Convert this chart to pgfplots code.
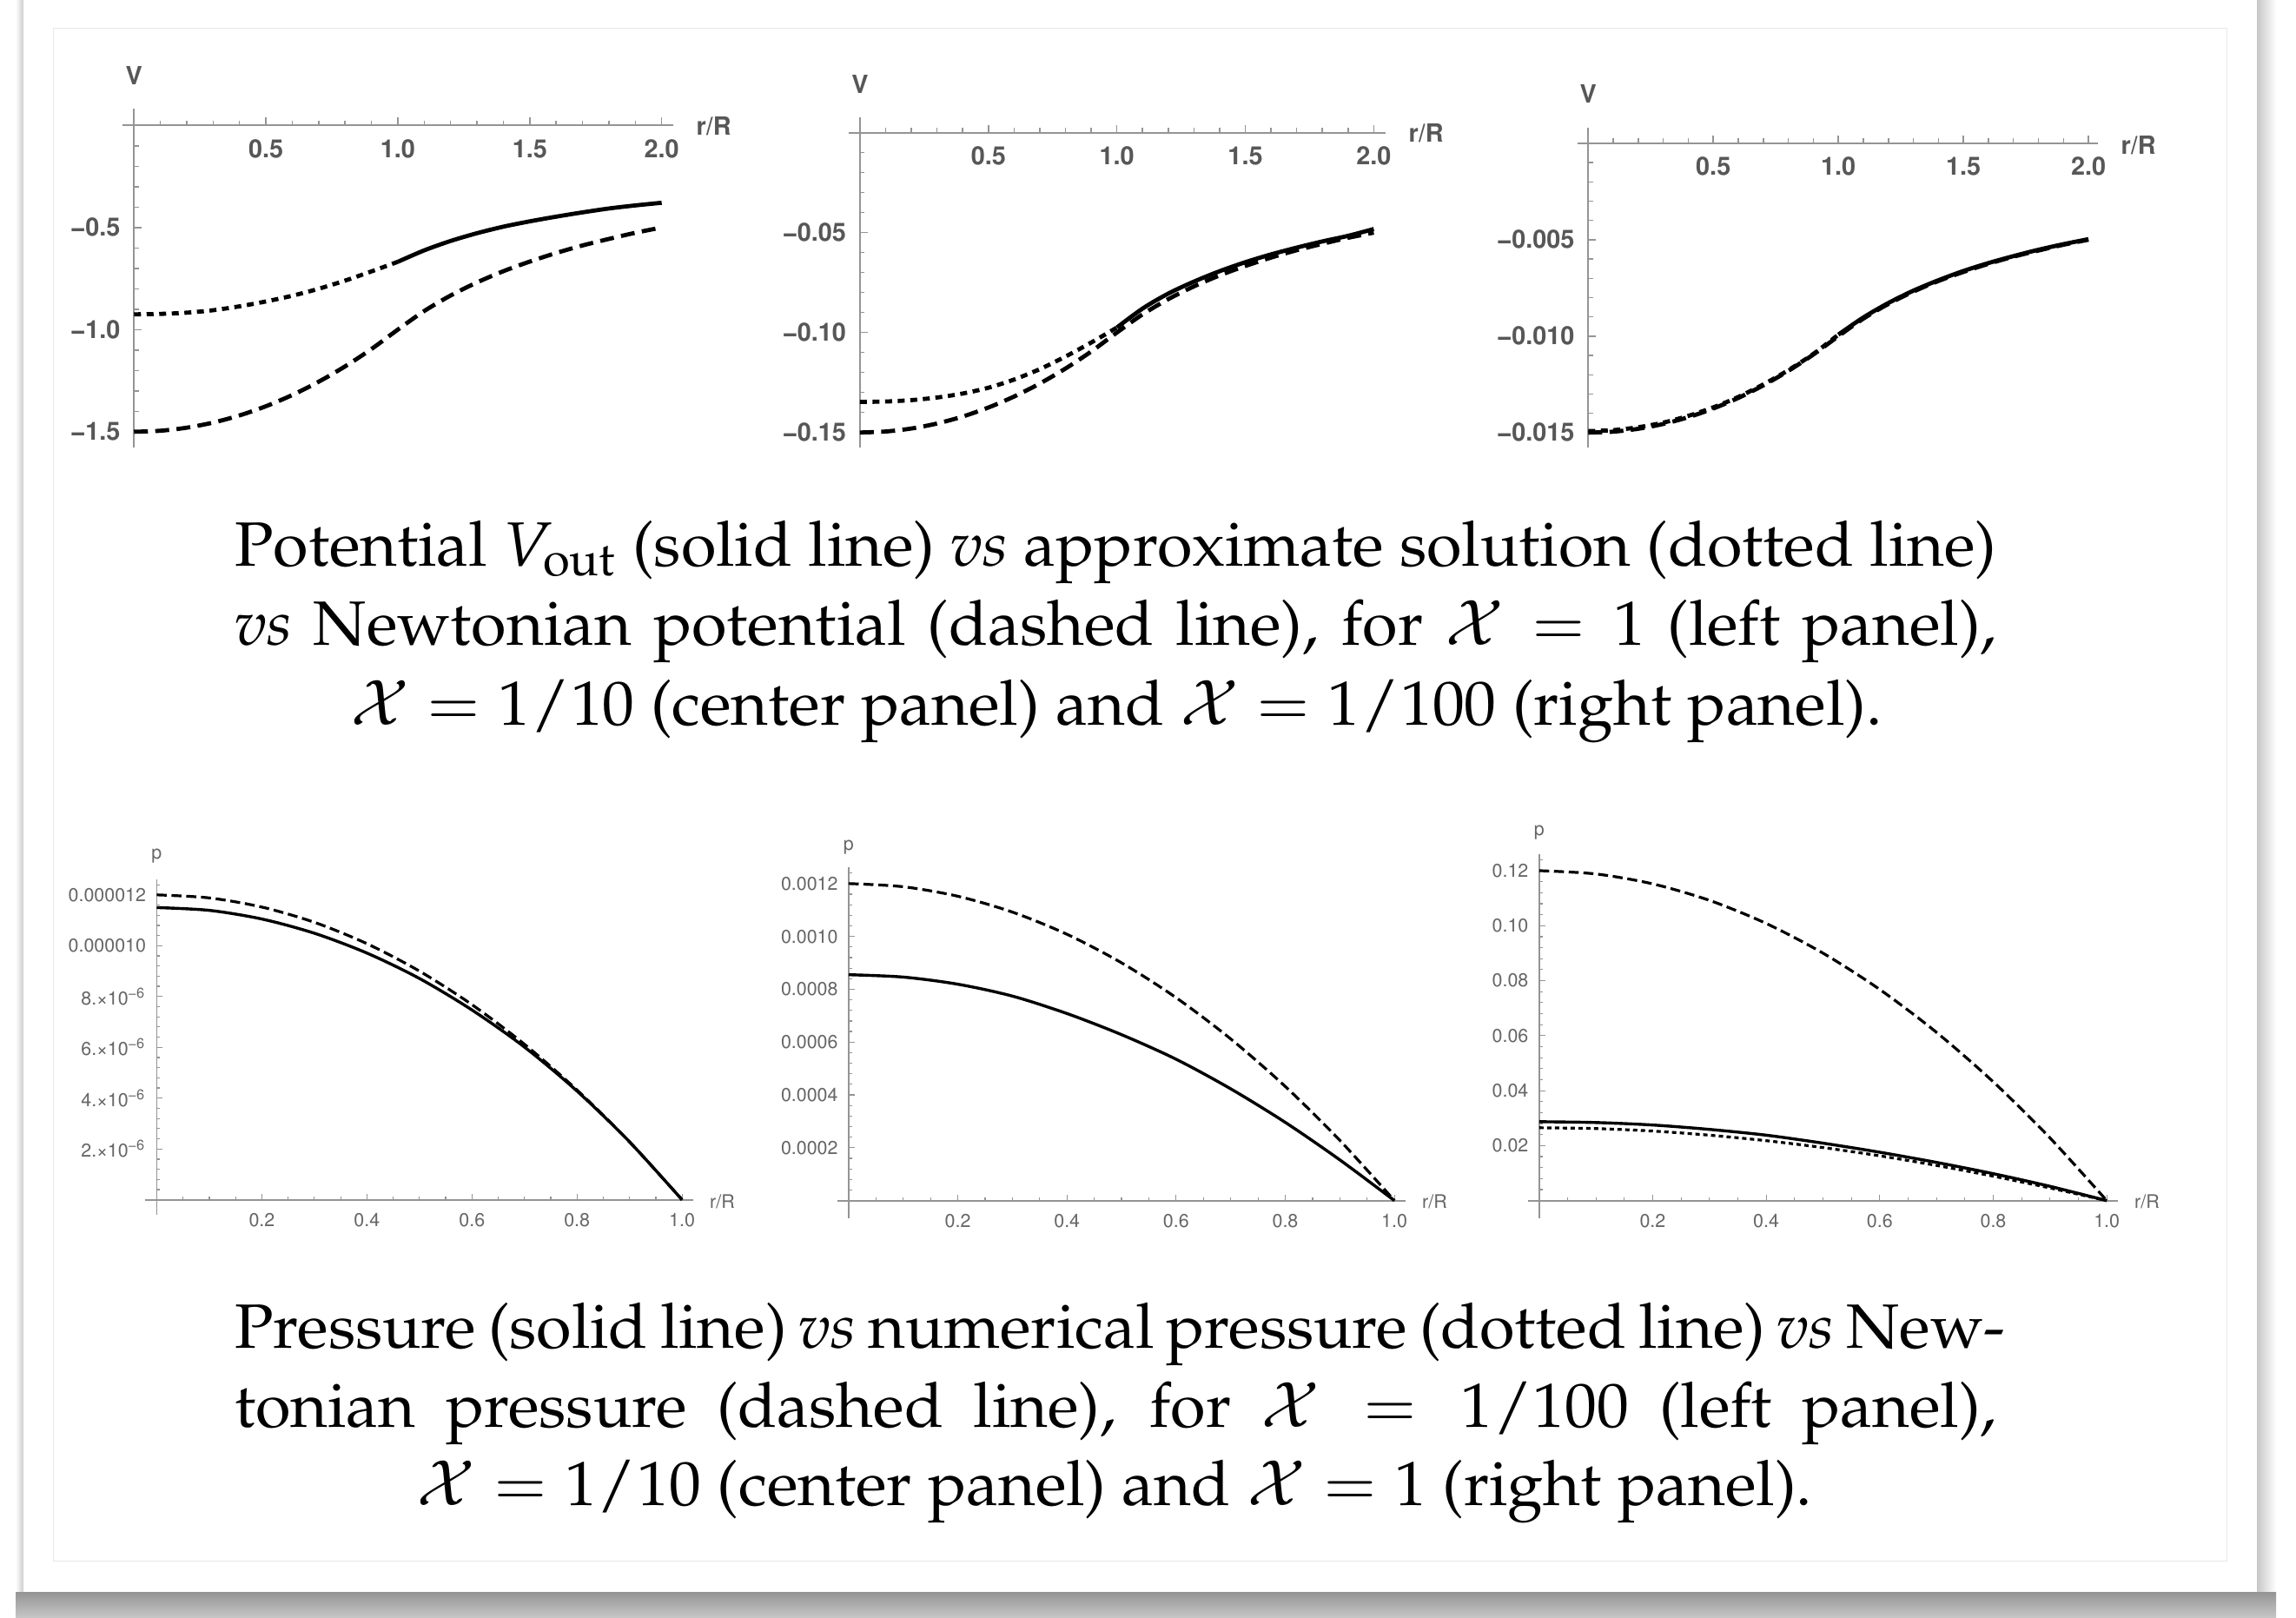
\documentclass[border=0pt]{standalone}
\usepackage[T1]{fontenc}
\usepackage{mathpazo}
\usepackage{helvet}
\usepackage{graphicx}
\usepackage{pgfplots}
\pgfplotsset{compat=1.18}

\newcommand\capfont{\fontsize{20.5}{26}\selectfont}
\newcommand\topfont{\fontfamily{phv}\bfseries\fontsize{8.2}{9}\selectfont}
\newcommand\botfont{\fontfamily{phv}\mdseries\fontsize{6.1}{7}\selectfont}
\newcommand\mm{\textminus}
\newcommand\sci[1]{#1.\texttimes10\textsuperscript{\textminus6}}

\pgfplotsset{
  mmatop/.style={
    scale only axis, anchor=south west, axis lines=middle,
    scaled ticks=false,
    axis line style={-, black!42, line width=0.2mm},
    tick style={black!42, line width=0.15mm},
    tick align=inside,
    major tick length=0.9mm, minor tick length=0.55mm,
    tick label style={font=\topfont, text=black!66},
    xticklabel style={yshift=-0.4mm},
    yticklabel style={xshift=-0.35mm},
  },
  mmabot/.style={
    scale only axis, anchor=south west, axis lines=middle,
    scaled ticks=false,
    axis line style={-, black!42, line width=0.18mm},
    tick style={black!42, line width=0.12mm},
    tick align=inside,
    major tick length=0.7mm, minor tick length=0.4mm,
    tick label style={font=\botfont, text=black!60},
    xticklabel style={yshift=-0.35mm},
    xtick={0.2,0.4,0.6,0.8,1.0},
    xticklabels={0.2,0.4,0.6,0.8,1.0},
    minor xtick={0.05,0.1,...,1.0},
  },
  tsol/.style={black, line width=0.48mm, smooth},
  tdas/.style={black, line width=0.48mm, smooth, dash pattern=on 1.6mm off 0.85mm},
  tdot/.style={black, line width=0.48mm, smooth, dash pattern=on 0.8mm off 0.65mm},
  bsol/.style={black, line width=0.34mm, smooth},
  bdas/.style={black, line width=0.32mm, smooth, dash pattern=on 1.15mm off 0.55mm},
  bdot/.style={black, line width=0.32mm, smooth, dash pattern=on 0.5mm off 0.4mm},
}

\newlength\Lone
\begin{document}%
\settowidth{\Lone}{\capfont Potential $V_{\mathrm{out}}$ (solid line) \textit{vs} approximate solution (dotted line)}%
\pgfmathsetmacro\sx{202.8mm/\Lone}%
\begin{tikzpicture}
% ---------- page, card and shadows ----------
\path (0,0) rectangle (264.3mm,186.2mm);
\shade[top color=black!42, bottom color=black!22] (1.8mm,0) rectangle (262mm,3.0mm);
\shade[left color=white, right color=black!20] (1.8mm,3.0mm) rectangle (2.68mm,186.2mm);
\shade[left color=black!22, right color=white] (259.8mm,3.0mm) rectangle (262mm,186.2mm);
\fill[white] (2.68mm,3.0mm) rectangle (259.8mm,186.2mm);
\draw[black!9, line width=0.1mm] (6.1mm,6.5mm) rectangle (256.3mm,182.9mm);

% ---------- top left: X = 1 ----------
\begin{axis}[mmatop, at={(14.12mm,134.7mm)}, width=63.35mm, height=39.0mm,
  xmin=-0.043, xmax=2.043, ymin=-1.577, ymax=0.082,
  xtick={0.5,1,1.5,2}, xticklabels={0.5,1.0,1.5,2.0},
  minor xtick={0.1,0.2,...,2.0},
  ytick={-1.5,-1,-0.5}, yticklabels={\mm1.5,\mm1.0,\mm0.5},
  minor ytick={-1.5,-1.4,...,-0.1}]
\addplot[tdas] coordinates {(0,-1.5) (0.1,-1.495) (0.2,-1.48) (0.3,-1.455) (0.4,-1.42) (0.5,-1.375) (0.6,-1.32) (0.7,-1.255) (0.8,-1.18) (0.9,-1.095) (1.0,-1.0) (1.1,-0.909) (1.2,-0.833) (1.3,-0.769) (1.4,-0.714) (1.5,-0.667) (1.6,-0.625) (1.7,-0.588) (1.8,-0.556) (1.9,-0.526) (2.0,-0.5)};
\addplot[tdot] coordinates {(0,-0.925) (0.1,-0.923) (0.2,-0.917) (0.3,-0.905) (0.4,-0.886) (0.5,-0.862) (0.6,-0.834) (0.7,-0.800) (0.8,-0.760) (0.9,-0.715) (1.0,-0.668)};
\addplot[tsol] coordinates {(1.0,-0.668) (1.1,-0.612) (1.2,-0.566) (1.3,-0.528) (1.4,-0.496) (1.5,-0.470) (1.6,-0.447) (1.7,-0.426) (1.8,-0.407) (1.9,-0.392) (2.0,-0.379)};
\end{axis}
\node[font=\topfont, text=black!66] at (15.42mm,177.5mm) {V};
\node[font=\topfont, text=black!66, anchor=west, inner sep=0] at (80.1mm,171.7mm) {r/R};

% ---------- top center: X = 1/10 ----------
\begin{axis}[mmatop, at={(97.69mm,134.7mm)}, width=61.78mm, height=38.0mm,
  xmin=-0.044, xmax=2.045, ymin=-0.1575, ymax=0.0077,
  xtick={0.5,1,1.5,2}, xticklabels={0.5,1.0,1.5,2.0},
  minor xtick={0.1,0.2,...,2.0},
  ytick={-0.15,-0.1,-0.05}, yticklabels={\mm0.15,\mm0.10,\mm0.05},
  minor ytick={-0.15,-0.14,...,-0.01}]
\addplot[tdas] coordinates {(0,-0.15) (0.1,-0.1495) (0.2,-0.148) (0.3,-0.1455) (0.4,-0.142) (0.5,-0.1375) (0.6,-0.132) (0.7,-0.1255) (0.8,-0.118) (0.9,-0.1095) (1.0,-0.1) (1.1,-0.0909) (1.2,-0.0833) (1.3,-0.0769) (1.4,-0.0714) (1.5,-0.0667) (1.6,-0.0625) (1.7,-0.0588) (1.8,-0.0556) (1.9,-0.0526) (2.0,-0.05)};
\addplot[tdot] coordinates {(0,-0.1347) (0.1,-0.1345) (0.2,-0.1338) (0.3,-0.1325) (0.4,-0.1305) (0.5,-0.1276) (0.6,-0.1235) (0.7,-0.1183) (0.8,-0.1120) (0.9,-0.1050) (1.0,-0.0975)};
\addplot[tsol] coordinates {(1.0,-0.0975) (1.1,-0.0880) (1.2,-0.0805) (1.3,-0.0745) (1.4,-0.0693) (1.5,-0.0648) (1.6,-0.0609) (1.7,-0.0575) (1.8,-0.0544) (1.9,-0.0516) (2.0,-0.0482)};
\end{axis}
\node[font=\topfont, text=black!66] at (98.99mm,176.5mm) {V};
\node[font=\topfont, text=black!66, anchor=west, inner sep=0] at (162.1mm,170.9mm) {r/R};

% ---------- top right: X = 1/100 ----------
\begin{axis}[mmatop, at={(181.62mm,134.7mm)}, width=59.85mm, height=36.83mm,
  xmin=-0.042, xmax=2.037, ymin=-0.01577, ymax=0.00082,
  xtick={0.5,1,1.5,2}, xticklabels={0.5,1.0,1.5,2.0},
  minor xtick={0.1,0.2,...,2.0},
  ytick={-0.015,-0.01,-0.005}, yticklabels={\mm0.015,\mm0.010,\mm0.005},
  minor ytick={-0.015,-0.014,-0.013,-0.012,-0.011,-0.010,-0.009,-0.008,-0.007,-0.006,-0.005,-0.004,-0.003,-0.002,-0.001}]
\addplot[tdas] coordinates {(0,-0.015) (0.1,-0.01495) (0.2,-0.0148) (0.3,-0.01455) (0.4,-0.0142) (0.5,-0.01375) (0.6,-0.0132) (0.7,-0.01255) (0.8,-0.0118) (0.9,-0.01095) (1.0,-0.0100) (1.1,-0.00909) (1.2,-0.00833) (1.3,-0.00769) (1.4,-0.00714) (1.5,-0.00667) (1.6,-0.00625) (1.7,-0.00588) (1.8,-0.00556) (1.9,-0.00526) (2.0,-0.0050)};
\addplot[tdot] coordinates {(0,-0.01492) (0.1,-0.01487) (0.2,-0.01472) (0.3,-0.01448) (0.4,-0.01413) (0.5,-0.01369) (0.6,-0.01315) (0.7,-0.01250) (0.8,-0.01176) (0.9,-0.01092) (1.0,-0.00992)};
\addplot[tsol] coordinates {(1.0,-0.00992) (1.1,-0.00903) (1.2,-0.00828) (1.3,-0.00764) (1.4,-0.00710) (1.5,-0.00662) (1.6,-0.00621) (1.7,-0.00585) (1.8,-0.00552) (1.9,-0.00523) (2.0,-0.00497)};
\end{axis}
\node[font=\topfont, text=black!66] at (182.83mm,175.4mm) {V};
\node[font=\topfont, text=black!66, anchor=west, inner sep=0] at (244.1mm,169.5mm) {r/R};

% ---------- caption 1 ----------
\node[anchor=base west, inner sep=0] at (26.96mm,121.0mm) {\capfont\scalebox{\sx}[1]{\makebox[\Lone][s]{Potential $V_{\mathrm{out}}$ (solid line) \textit{vs} approximate solution (dotted line)}}};
\node[anchor=base west, inner sep=0] at (26.96mm,111.9mm) {\capfont\scalebox{\sx}[1]{\makebox[\Lone][s]{\textit{vs} Newtonian potential (dashed line), for $\mathcal{X} = 1$ (left panel),}}};
\node[anchor=base, inner sep=0] at (128.5mm,102.7mm) {\capfont\scalebox{\sx}[1]{$\mathcal{X} = 1/10$ (center panel) and $\mathcal{X} = 1/100$ (right panel).}};

% ---------- bottom left: X = 1/100 ----------
\begin{axis}[mmabot, at={(16.73mm,46.4mm)}, width=63.09mm, height=38.63mm,
  xmin=-0.0218, xmax=1.0216, ymin=-0.59e-6, ymax=12.62e-6,
  ytick={2e-6,4e-6,6e-6,8e-6,10e-6,12e-6},
  yticklabels={\sci{2},\sci{4},\sci{6},\sci{8},0.000010,0.000012},
  minor ytick={0.4e-6,0.8e-6,1.2e-6,1.6e-6,2.0e-6,2.4e-6,2.8e-6,3.2e-6,3.6e-6,4.0e-6,4.4e-6,4.8e-6,5.2e-6,5.6e-6,6.0e-6,6.4e-6,6.8e-6,7.2e-6,7.6e-6,8.0e-6,8.4e-6,8.8e-6,9.2e-6,9.6e-6,10.0e-6,10.4e-6,10.8e-6,11.2e-6,11.6e-6,12.0e-6,12.4e-6}]
\addplot[bdas] coordinates {(0,12.0e-6) (0.1,11.88e-6) (0.2,11.52e-6) (0.3,10.92e-6) (0.4,10.08e-6) (0.5,9.0e-6) (0.6,7.68e-6) (0.7,6.12e-6) (0.8,4.32e-6) (0.9,2.28e-6) (1.0,0)};
\addplot[bsol] coordinates {(0,11.50e-6) (0.1,11.39e-6) (0.2,11.05e-6) (0.3,10.49e-6) (0.4,9.71e-6) (0.5,8.71e-6) (0.6,7.47e-6) (0.7,6.01e-6) (0.8,4.28e-6) (0.9,2.28e-6) (1.0,0)};
\end{axis}
\node[font=\botfont, text=black!60] at (18.04mm,87.7mm) {p};
\node[font=\botfont, text=black!60, anchor=west, inner sep=0] at (81.65mm,47.9mm) {r/R};

% ---------- bottom center: X = 1/10 ----------
\begin{axis}[mmabot, at={(96.38mm,46.03mm)}, width=65.44mm, height=40.34mm,
  xmin=-0.021, xmax=1.0208, ymin=-0.66e-4, ymax=12.61e-4,
  ytick={2e-4,4e-4,6e-4,8e-4,10e-4,12e-4},
  yticklabels={0.0002,0.0004,0.0006,0.0008,0.0010,0.0012},
  minor ytick={0.4e-4,0.8e-4,1.2e-4,1.6e-4,2.0e-4,2.4e-4,2.8e-4,3.2e-4,3.6e-4,4.0e-4,4.4e-4,4.8e-4,5.2e-4,5.6e-4,6.0e-4,6.4e-4,6.8e-4,7.2e-4,7.6e-4,8.0e-4,8.4e-4,8.8e-4,9.2e-4,9.6e-4,10.0e-4,10.4e-4,10.8e-4,11.2e-4,11.6e-4,12.0e-4,12.4e-4}]
\addplot[bdas] coordinates {(0,12.0e-4) (0.1,11.88e-4) (0.2,11.52e-4) (0.3,10.92e-4) (0.4,10.08e-4) (0.5,9.0e-4) (0.6,7.68e-4) (0.7,6.12e-4) (0.8,4.32e-4) (0.9,2.28e-4) (1.0,0)};
\addplot[bsol] coordinates {(0,8.55e-4) (0.1,8.46e-4) (0.2,8.19e-4) (0.3,7.74e-4) (0.4,7.08e-4) (0.5,6.28e-4) (0.6,5.35e-4) (0.7,4.23e-4) (0.8,2.96e-4) (0.9,1.54e-4) (1.0,0)};
\end{axis}
\node[font=\botfont, text=black!60] at (97.69mm,88.7mm) {p};
\node[font=\botfont, text=black!60, anchor=west, inner sep=0] at (163.65mm,47.9mm) {r/R};

% ---------- bottom right: X = 1 ----------
\begin{axis}[mmabot, at={(175.86mm,46.03mm)}, width=67.96mm, height=41.84mm,
  xmin=-0.0202, xmax=1.02, ymin=-0.00632, ymax=0.1259,
  ytick={0.02,0.04,0.06,0.08,0.10,0.12},
  yticklabels={0.02,0.04,0.06,0.08,0.10,0.12},
  minor ytick={0.004,0.008,0.012,0.016,0.020,0.024,0.028,0.032,0.036,0.040,0.044,0.048,0.052,0.056,0.060,0.064,0.068,0.072,0.076,0.080,0.084,0.088,0.092,0.096,0.100,0.104,0.108,0.112,0.116,0.120,0.124}]
\addplot[bdas] coordinates {(0,0.12) (0.1,0.1188) (0.2,0.1152) (0.3,0.1092) (0.4,0.1008) (0.5,0.09) (0.6,0.0768) (0.7,0.0612) (0.8,0.0432) (0.9,0.0228) (1.0,0)};
\addplot[bdot] coordinates {(0,0.0265) (0.1,0.0262) (0.2,0.0253) (0.3,0.0238) (0.4,0.0218) (0.5,0.0193) (0.6,0.0163) (0.7,0.0128) (0.8,0.0089) (0.9,0.0046) (1.0,0)};
\addplot[bsol] coordinates {(0,0.0287) (0.1,0.0284) (0.2,0.0275) (0.3,0.0259) (0.4,0.0238) (0.5,0.0209) (0.6,0.0176) (0.7,0.0139) (0.8,0.0098) (0.9,0.0052) (1.0,0)};
\end{axis}
\node[font=\botfont, text=black!60] at (177.17mm,90.4mm) {p};
\node[font=\botfont, text=black!60, anchor=west, inner sep=0] at (245.65mm,47.9mm) {r/R};

% ---------- caption 2 ----------
\node[anchor=base west, inner sep=0] at (26.96mm,31.0mm) {\capfont\scalebox{\sx}[1]{\makebox[\Lone][s]{Pressure (solid line) \textit{vs} numerical pressure (dotted line) \textit{vs} New-}}};
\node[anchor=base west, inner sep=0] at (26.96mm,21.9mm) {\capfont\scalebox{\sx}[1]{\makebox[\Lone][s]{tonian pressure (dashed line), for $\mathcal{X} = 1/100$ (left panel),}}};
\node[anchor=base, inner sep=0] at (128.3mm,12.9mm) {\capfont\scalebox{\sx}[1]{$\mathcal{X} = 1/10$ (center panel) and $\mathcal{X} = 1$ (right panel).}};
\end{tikzpicture}%
\end{document}
